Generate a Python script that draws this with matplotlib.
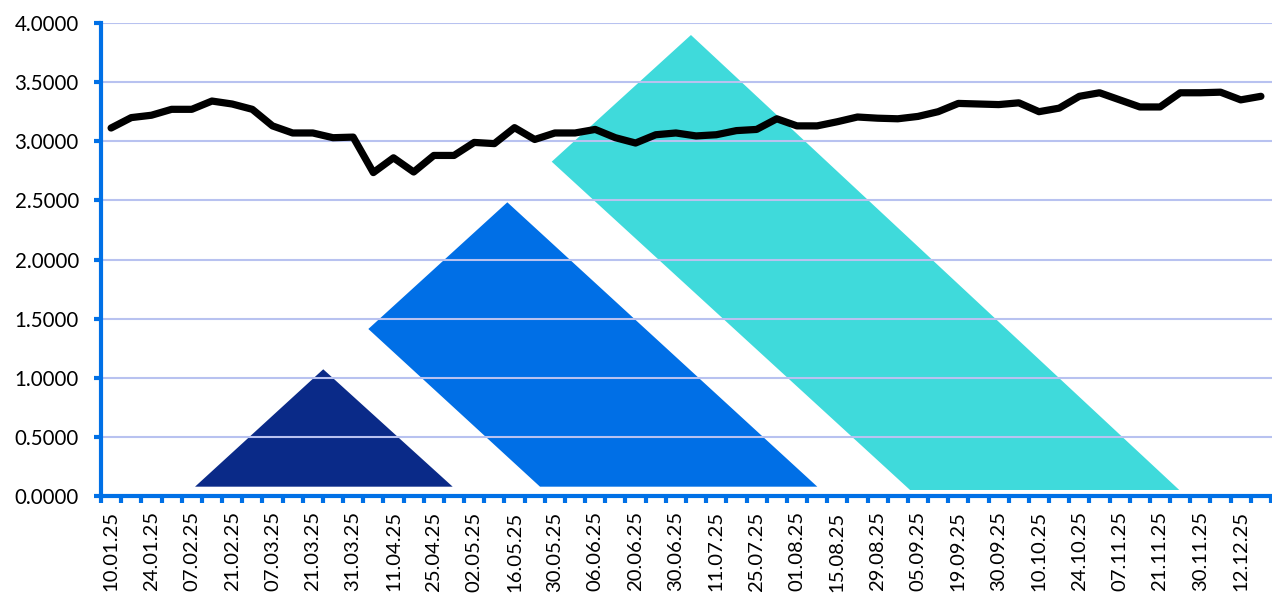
import matplotlib
matplotlib.use('Agg')
import matplotlib.pyplot as plt
from matplotlib.patches import Polygon

# 日期标签（每隔一个类别显示一次）
date_labels = ['10.01.25', '24.01.25', '07.02.25', '21.02.25', '07.03.25', '21.03.25',
               '31.03.25', '11.04.25', '25.04.25', '02.05.25', '16.05.25', '30.05.25',
               '06.06.25', '20.06.25', '30.06.25', '11.07.25', '25.07.25', '01.08.25',
               '15.08.25', '29.08.25', '05.09.25', '19.09.25', '30.09.25', '10.10.25',
               '24.10.25', '07.11.25', '21.11.25', '30.11.25', '12.12.25']

# 数值（共 58 个点）
values = [3.112, 3.20, 3.22, 3.27, 3.27, 3.34, 3.315, 3.27, 3.13, 3.07,
          3.07, 3.03, 3.035, 2.735, 2.86, 2.74, 2.88, 2.88, 2.99, 2.98,
          3.115, 3.015, 3.07, 3.07, 3.10, 3.03, 2.985, 3.055, 3.07, 3.045,
          3.055, 3.09, 3.10, 3.19, 3.13, 3.13, 3.165, 3.205, 3.195, 3.19,
          3.21, 3.25, 3.32, 3.315, 3.31, 3.325, 3.25, 3.28, 3.38, 3.41,
          3.35, 3.29, 3.29, 3.41, 3.41, 3.415, 3.35, 3.38]

y_ticks = [0.0, 0.5, 1.0, 1.5, 2.0, 2.5, 3.0, 3.5, 4.0]

# 背景装饰图形（轴坐标比例）
navy_shape = [(0.0803, 0.0197), (0.1898, 0.2679), (0.3003, 0.0197)]
blue_shape = [(0.2283, 0.3531), (0.3470, 0.6209), (0.6117, 0.0197), (0.3749, 0.0197)]
cyan_shape = [(0.3849, 0.7068), (0.5038, 0.9746), (0.9208, 0.0127), (0.6909, 0.0127)]

axis_blue = '#0070e6'

plt.rcParams['font.family'] = ['Lato', 'DejaVu Sans']

fig = plt.figure(figsize=(12.72, 5.95), dpi=100)
ax = fig.add_axes([101 / 1272, 99 / 595, 1171 / 1272, 473 / 595])

# 装饰图形
for verts, col in [(navy_shape, '#0a2a88'), (blue_shape, '#006fe6'), (cyan_shape, '#3fdadb')]:
    ax.add_patch(Polygon(verts, closed=True, transform=ax.transAxes,
                         facecolor=col, edgecolor='none', zorder=1))

x = list(range(len(values)))
ax.plot(x, values, color='black', linewidth=5.2, solid_joinstyle='round',
        solid_capstyle='round', zorder=4)

ax.set_xlim(-0.5, len(values) - 0.45)
ax.set_ylim(0, 4.0)

# 网格
ax.set_yticks(y_ticks)
ax.set_yticklabels([f'{v:.4f}' for v in y_ticks])
ax.grid(axis='y', color='#b8c2f0', linewidth=1.5, zorder=3)
ax.set_axisbelow(False)

# x 轴刻度：刻度线位于类别之间，标签每隔一个类别
ax.set_xticks([i - 0.5 for i in range(len(values) + 1)])
ax.set_xticklabels([])
ax.set_xticks(list(range(0, len(values), 2)), minor=True)
ax.set_xticklabels(date_labels, minor=True, rotation=90)

for side in ['top', 'right']:
    ax.spines[side].set_visible(False)
for side in ['left', 'bottom']:
    ax.spines[side].set_color(axis_blue)
    ax.spines[side].set_linewidth(3)
    ax.spines[side].set_zorder(5)

ax.tick_params(axis='y', which='major', direction='out', length=5, width=3,
               color=axis_blue, labelsize=14.8, pad=11)
ax.tick_params(axis='x', which='major', direction='out', length=5, width=3,
               color=axis_blue)
ax.tick_params(axis='x', which='minor', length=0, labelsize=14.6, pad=11)

fig.savefig('out.png', dpi=100)
